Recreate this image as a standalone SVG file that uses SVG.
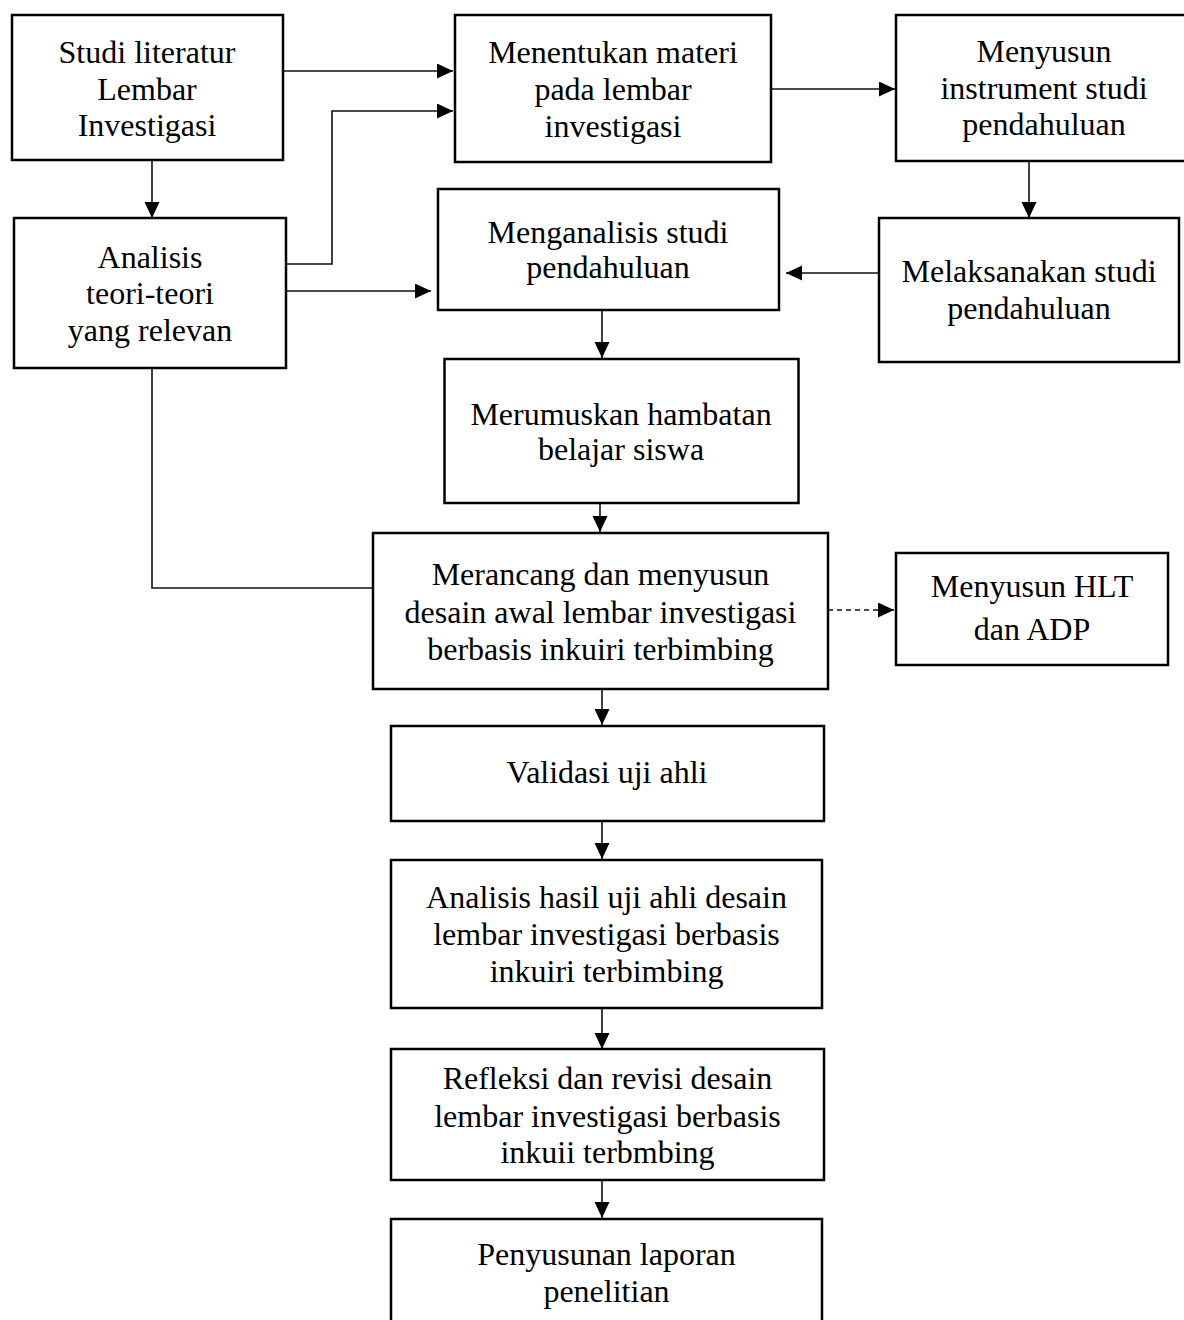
<svg xmlns="http://www.w3.org/2000/svg" width="1184" height="1320" viewBox="0 0 1184 1320">
<style>
.box{fill:#fff;stroke:#000;stroke-width:2.5}
.t{font-family:"Liberation Serif","Times New Roman",serif;font-size:32px;fill:#000;text-anchor:middle}
.c{fill:none;stroke:#111;stroke-width:1.6}
.d{stroke-dasharray:5,4}
</style>
<defs>
<marker id="ah" markerUnits="userSpaceOnUse" markerWidth="17" markerHeight="16" refX="16" refY="7.5" orient="auto">
<path d="M0,0 L16,7.5 L0,15 z" fill="#000"/>
</marker>
</defs>
<rect width="1184" height="1320" fill="#fff"/>
<g id="connectors">
<line class="c" x1="152" y1="160" x2="152" y2="218" marker-end="url(#ah)"/>
<line class="c" x1="283" y1="71" x2="453" y2="71" marker-end="url(#ah)"/>
<polyline class="c" points="286,264 332,264 332,111 453,111" marker-end="url(#ah)"/>
<line class="c" x1="286" y1="291" x2="431" y2="291" marker-end="url(#ah)"/>
<line class="c" x1="771" y1="89" x2="895" y2="89" marker-end="url(#ah)"/>
<line class="c" x1="1029" y1="161" x2="1029" y2="218" marker-end="url(#ah)"/>
<line class="c" x1="879" y1="273" x2="786" y2="273" marker-end="url(#ah)"/>
<line class="c" x1="602" y1="311" x2="602" y2="358" marker-end="url(#ah)"/>
<line class="c" x1="600" y1="503" x2="600" y2="532" marker-end="url(#ah)"/>
<polyline class="c" points="152,368 152,588 372,588"/>
<line class="c d" x1="828" y1="610" x2="894" y2="610" marker-end="url(#ah)"/>
<line class="c" x1="602" y1="689" x2="602" y2="725" marker-end="url(#ah)"/>
<line class="c" x1="602" y1="821" x2="602" y2="859" marker-end="url(#ah)"/>
<line class="c" x1="602" y1="1008" x2="602" y2="1049" marker-end="url(#ah)"/>
<line class="c" x1="602" y1="1180" x2="602" y2="1218" marker-end="url(#ah)"/>
</g>
<g id="n1"><rect class="box" x="12" y="15" width="271" height="145"/>
<text class="t" x="147" y="63">Studi literatur</text><text class="t" x="147" y="99.5">Lembar</text><text class="t" x="147" y="136">Investigasi</text></g>
<g id="n2"><rect class="box" x="14" y="218" width="272" height="150"/>
<text class="t" x="150" y="268">Analisis</text><text class="t" x="150" y="304">teori-teori</text><text class="t" x="150" y="341">yang relevan</text></g>
<g id="n3"><rect class="box" x="455" y="15" width="316" height="147"/>
<text class="t" x="613" y="63">Menentukan materi</text><text class="t" x="613" y="100">pada lembar</text><text class="t" x="613" y="136.5">investigasi</text></g>
<g id="n4"><rect class="box" x="896" y="15" width="300" height="146"/>
<text class="t" x="1044" y="62">Menyusun</text><text class="t" x="1044" y="99">instrument studi</text><text class="t" x="1044" y="135">pendahuluan</text></g>
<g id="n5"><rect class="box" x="438" y="189" width="341" height="121"/>
<text class="t" x="608" y="242.5">Menganalisis studi</text><text class="t" x="608" y="278">pendahuluan</text></g>
<g id="n6"><rect class="box" x="879" y="218" width="300" height="144"/>
<text class="t" x="1029" y="282">Melaksanakan studi</text><text class="t" x="1029" y="318.5">pendahuluan</text></g>
<g id="n7"><rect class="box" x="444.5" y="359" width="354" height="144"/>
<text class="t" x="621" y="425">Merumuskan hambatan</text><text class="t" x="621" y="460">belajar siswa</text></g>
<g id="n8"><rect class="box" x="373" y="533" width="455" height="156"/>
<text class="t" x="600.5" y="585">Merancang dan menyusun</text><text class="t" x="600.5" y="622.5">desain awal lembar investigasi</text><text class="t" x="600.5" y="660">berbasis inkuiri terbimbing</text></g>
<g id="n9"><rect class="box" x="896" y="553" width="272" height="112"/>
<text class="t" x="1032" y="597">Menyusun HLT</text><text class="t" x="1032" y="640">dan ADP</text></g>
<g id="n10"><rect class="box" x="391" y="726" width="433" height="95"/>
<text class="t" x="607" y="783">Validasi uji ahli</text></g>
<g id="n11"><rect class="box" x="391" y="860" width="431" height="148"/>
<text class="t" x="606.5" y="908">Analisis hasil uji ahli desain</text><text class="t" x="606.5" y="945">lembar investigasi berbasis</text><text class="t" x="606.5" y="981.5">inkuiri terbimbing</text></g>
<g id="n12"><rect class="box" x="391" y="1049" width="433" height="131"/>
<text class="t" x="607.5" y="1089">Refleksi dan revisi desain</text><text class="t" x="607.5" y="1126.5">lembar investigasi berbasis</text><text class="t" x="607.5" y="1163">inkuii terbmbing</text></g>
<g id="n13"><rect class="box" x="391" y="1219" width="431" height="120"/>
<text class="t" x="606.5" y="1265">Penyusunan laporan</text><text class="t" x="606.5" y="1301.5">penelitian</text></g>
</svg>
